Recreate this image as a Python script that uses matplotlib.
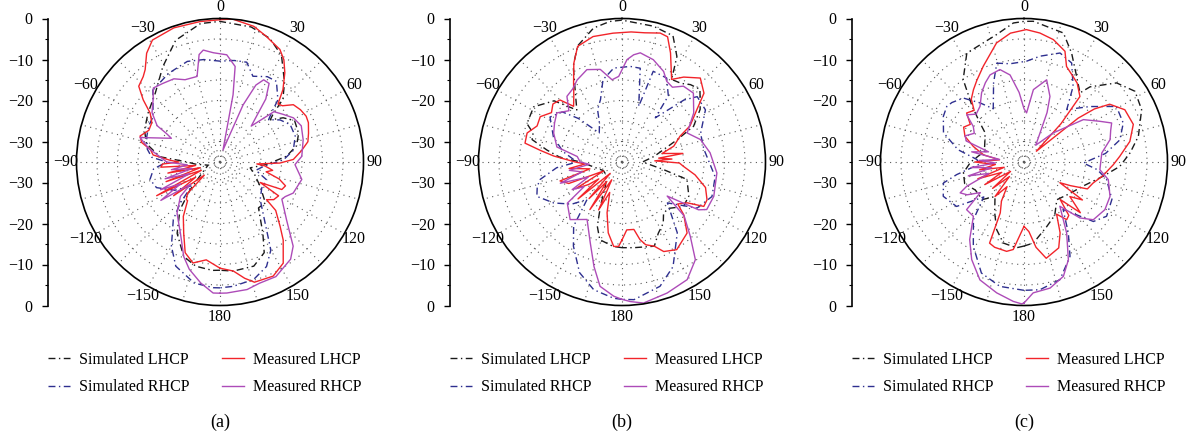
import numpy as np
import matplotlib
matplotlib.use("Agg")
import matplotlib.pyplot as plt

plt.rcParams["font.family"] = ["Liberation Serif", "DejaVu Serif"]

# (angle in degrees, level in dB)
A_SIM_LHCP = [(-180, -8.6), (-176, -8.5), (-167, -8.9), (-159, -10.3), (-149, -14.7), (-140, -19.8),
              (-133, -25), (-125, -29), (-115, -31), (-105, -32), (-95, -29), (-90, -27), (-85, -20.3),
              (-76, -16.5), (-67, -15), (-56, -13.8), (-43, -11.9), (-31, -7.9), (-20, -3.4), (-8, -0.9),
              (0, -0.7), (13, -1.2), (22, -2.5), (30, -5), (39, -10), (45, -13.3), (48, -17.6), (50, -19),
              (55, -16.2), (61, -14.2), (70, -14.6), (78, -15.9), (85, -18.7), (93, -23.6), (101, -27.5),
              (110, -26), (121, -23.6), (132, -20.1), (140, -20.4), (149, -14.7), (154, -10.4),
              (162, -8.3), (173, -8.2), (180, -8.6)]
A_SIM_RHCP = [(-180, -4.3), (-177, -4.3), (-168, -4.8), (-157, -7.4), (-150, -11.3), (-141, -16.9),
              (-136, -21), (-130, -26), (-122, -22), (-112, -18.3), (-104, -17.4), (-96, -18.7),
              (-90, -22), (-86, -18.3), (-80, -17), (-71, -16.1), (-63, -15.5), (-56, -15.3), (-43, -11),
              (-30, -10), (-18, -9.2), (-9, -9.7), (0, -10.4), (8, -10), (15, -9.8), (21, -12.6),
              (29, -11.2), (35, -11), (43, -14.3), (46, -17.4), (49, -19.3), (55, -17.1), (62, -15.6),
              (71, -15.6), (81, -16.9), (88, -19.5), (96, -24.4), (103, -26), (111, -22.8), (122, -23),
              (133, -21.6), (141, -18.1), (150, -10.2), (156, -7.1), (164, -5.2), (174, -4.5), (180, -4.3)]
A_MEAS_LHCP = [(-180, -9.1), (-172, -10.9), (-165, -9.5), (-159, -11.3), (-153, -15.5), (-146, -19),
               (-140, -22.7), (-138, -22.7), (-134, -24), (-130, -30), (-126, -21), (-122, -28),
               (-118, -17.5), (-114, -30), (-110, -21), (-106, -30), (-102, -22), (-98, -29),
               (-95, -20.5), (-92, -21), (-90, -25), (-88, -22.8), (-84, -18.6), (-80, -17.8),
               (-76, -15.3), (-72, -14.5), (-66, -16), (-60, -15.8), (-55, -14.2), (-51, -10.9),
               (-47, -7.9), (-42, -7), (-39, -6), (-34, -3), (-29, -1), (-19, -0.4), (-8, -0.4), (0, -0.3),
               (5, 0), (14, -0.9), (20, -2.3), (28, -3.9), (32, -5.6), (36, -8.1), (41, -11.6), (45, -15),
               (48, -14.5), (52, -12.3), (57, -11.6), (62, -11.2), (66, -11.4), (72, -12.3), (77, -13),
               (82, -14.9), (88, -17.1), (91, -20.4), (93, -26), (95, -24), (99, -22), (102, -23.5),
               (106, -20), (110, -18), (114, -18.5), (117, -24), (120, -18.5), (125, -19), (129, -20.4),
               (131, -17), (137, -13.5), (141, -10.5), (148, -5.9), (155, -4.3), (164, -4.5), (168, -6),
               (173, -8.2), (180, -9.1)]
A_MEAS_RHCP = [(-180, -3), (-177, -3), (-171, -5.1), (-164, -7.8), (-159, -10.3), (-151, -15.1),
               (-140, -18.7), (-131, -22.2), (-127, -26), (-123, -17.8), (-119, -24), (-115, -19),
               (-111, -27), (-107, -21), (-103, -28), (-99, -23), (-95, -27), (-90, -22), (-85, -20.3),
               (-79, -17.2), (-73, -14.6), (-64, -21.8), (-62, -20.2), (-60, -17.3), (-54, -14.5),
               (-47, -12.7), (-42, -10.7), (-36, -11.3), (-29, -11.8), (-23, -13.2), (-15, -13.4),
               (-11, -8.3), (-8.5, -7.4), (-3.5, -8.3), (3.6, -8.8), (9, -11.4), (11, -18.3), (14, -32),
               (22, -20), (25, -14.3), (28, -12.3), (32, -12.4), (36, -16), (41, -23.4), (47, -17),
               (53, -15.7), (59, -14.1), (66, -13.3), (75, -14), (86, -15), (92, -16.7), (102, -14.6),
               (113, -15.6), (118, -17), (121, -17.4), (131, -13.5), (139, -7.8), (144, -5.7), (154, -3.9),
               (162, -3.9), (168, -3.2), (177, -3), (180, -3)]

B_SIM_LHCP = [(-180, -14.1), (-174, -14.3), (-164, -15.3), (-159, -18.2), (-154, -23), (-145, -28),
              (-130, -30), (-115, -30), (-100, -28), (-90, -25), (-86, -20), (-81, -16.5), (-76, -12.4),
              (-72, -12.2), (-68, -10), (-58, -9.6), (-48, -12.7), (-41, -18.2), (-32, -13.3), (-27, -8.8),
              (-21, -4.7), (-12, -1.6), (-5, -0.6), (0, -0.4), (13, -1), (22, -1.8), (27.5, -6), (31, -11.5),
              (37, -11), (41.5, -9.8), (47, -9), (56, -12), (63.5, -15.5), (68, -20.5), (80, -27), (90, -30),
              (100, -25), (105, -18.6), (117, -16.7), (126, -16.5), (135, -19), (141, -18.9), (146, -17),
              (153, -15.5), (159, -13), (172, -13.9), (180, -14.1)]
B_SIM_RHCP = [(-180, -1.5), (-176.5, -1.7), (-167.5, -3.1), (-159, -6.1), (-150, -11.3), (-143, -15.4),
              (-137, -22.5), (-130, -19), (-121, -15.6), (-112, -12.6), (-106, -13.5), (-102, -14.6),
              (-95, -19), (-90, -24), (-80, -20.4), (-70, -17.2), (-58, -14.3), (-50, -16), (-45, -20),
              (-38, -26), (-30, -24), (-25, -20.9), (-19, -18.9), (-13, -14.4), (-5, -12), (5, -11.6),
              (11, -11.7), (16.7, -20.8), (19, -11.6), (28, -11.8), (35, -15.3), (37, -21.5), (45, -13.6),
              (49, -10.7), (58, -11), (70, -14.6), (81, -14.8), (99, -12), (111, -11.5), (121.5, -13.5),
              (132, -20.1), (142, -13.1), (154, -6.6), (163, -3.3), (175, -1.3), (180, -1.5)]
B_MEAS_LHCP = [(-180, -16), (-177.7, -14.4), (-174.4, -14.3), (-169, -17.4), (-163.6, -22.1), (-158, -27),
               (-154, -22), (-150, -30), (-146, -21), (-142, -29), (-138, -23), (-134, -31), (-130, -21),
               (-126, -28), (-124, -25.2), (-120, -22), (-116, -30), (-112, -21), (-107, -19.2),
               (-102, -27), (-97, -22), (-93, -26), (-90, -23.6), (-85, -18.3), (-82, -15), (-79, -10.9),
               (-73, -10.8), (-67, -12.5), (-61, -12.2), (-55, -14), (-50, -13), (-45, -13.6), (-41, -17),
               (-36, -15), (-31.5, -12.4), (-26, -8.2), (-21, -4.8), (-13, -3.6), (-4, -3.5), (4, -3.2),
               (10, -3), (16.5, -2.2), (20, -2.5), (24, -5.9), (31, -11.5), (36, -9.4), (43, -7), (50, -8.9),
               (55, -12.7), (62, -16.2), (66, -19.5), (73, -21.8), (78, -25), (82, -20), (84, -26),
               (86.6, -22.8), (88, -27), (91, -21), (94, -20), (100, -16.9), (107, -13.7), (114, -12.3),
               (118.5, -12.3), (122, -16.2), (127, -18), (130.5, -15.2), (137.5, -11.5), (148, -9.8),
               (155, -10.9), (159, -13), (164, -14), (167, -15.6), (170, -18.3), (176, -18.4), (180, -16)]
B_MEAS_RHCP = [(-180, -1.5), (-176.5, -2.2), (-170, -4.2), (-165, -8.6), (-158.6, -13.8), (-148.7, -18.6),
               (-138, -16.1), (-127, -18.3), (-123, -24), (-119, -21.1), (-114, -26), (-109, -19.1),
               (-104, -25), (-99, -22), (-94, -27), (-90, -24.8), (-83, -24), (-77, -18.7), (-67, -16.9),
               (-60, -16), (-53, -15.1), (-46, -17), (-40, -14.1), (-34, -13.5), (-28.7, -12.2),
               (-20.8, -10.9), (-13.2, -11.8), (-6.9, -14.8), (-2.2, -14.1), (2.8, -10), (6.2, -8.7),
               (9.5, -8), (17, -8.9), (24.7, -10.7), (29, -12.5), (34, -13), (39, -11.2), (46, -10.8),
               (55.6, -13.8), (66, -17.6), (74, -15.1), (84, -13.4), (96.6, -11.7), (110.5, -11.1),
               (119.3, -11.3), (122, -13), (127, -21.2), (131, -14.9), (137.4, -10.4), (143.1, -5.2),
               (151, -2.2), (161, -1.2), (171.3, -0.2), (176.6, -0.9), (180, -1.5)]

C_SIM_LHCP = [(-180, -14.5), (-175, -14), (-165.7, -14.6), (-158, -17.2), (-150, -20.7), (-140, -24),
              (-132, -21.3), (-120, -21.3), (-110, -19.6), (-100, -20), (-90, -22), (-75, -25), (-60, -24),
              (-53, -23.1), (-48.5, -20.7), (-43, -16.5), (-36.4, -10), (-27.7, -5), (-12.1, -3.2),
              (-4.4, -1), (0, -0.7), (3.8, -0.6), (17, -2.1), (23.6, -6), (31.6, -10.5), (39, -13.3),
              (41.3, -10.6), (49.5, -5.3), (57.5, -2.9), (66, -3.6), (77.3, -6.4), (85, -9), (92.6, -11.6),
              (100, -15.3), (112, -19.4), (125, -21.5), (139, -22.8), (150, -20), (160.6, -18.3),
              (173.4, -15.1), (180, -14.5)]
C_SIM_RHCP = [(-180, -3.7), (-169, -4.1), (-159, -6), (-149, -11), (-138.7, -16.3), (-131, -22),
              (-123.4, -15.3), (-113, -13.6), (-104.6, -14.7), (-100.6, -18.3), (-93, -24), (-87, -23.5),
              (-79.4, -18.6), (-70, -14.1), (-60.5, -12.4), (-54.3, -11.8), (-50.5, -12.2), (-43.5, -13.5),
              (-36.7, -17), (-30, -20), (-21, -14.3), (-15.4, -10), (-8, -10.8), (1.5, -10.4), (8.6, -8.9),
              (18.3, -7), (25.7, -8.2), (33, -13), (39.2, -18.5), (49.9, -14), (59, -8.7), (68.6, -9),
              (77, -11), (84, -15), (91, -20.5), (96, -17), (102, -14.4), (113, -11.7), (123.3, -10.9),
              (130.6, -12.7), (140.5, -20), (148, -14.6), (154, -9.4), (163, -5), (172.9, -3.6), (180, -3.7)]
C_MEAS_LHCP = [(-180, -19.3), (-173, -13.5), (-169, -12.8), (-161, -13), (-157, -13.5), (-155, -21.3),
               (-150, -24), (-145.5, -27.7), (-140, -24), (-135, -30), (-130, -25), (-125, -31), (-120, -24),
               (-115, -29), (-110, -23), (-105, -30), (-100, -24), (-95, -28), (-90, -23), (-85, -29),
               (-80, -25), (-73, -22.1), (-66.5, -19.3), (-60, -18), (-55, -19), (-49.5, -16.6), (-44, -17.5),
               (-40, -15), (-35, -13.5), (-30, -12), (-23, -9.6), (-13, -5.2), (-6, -3.4), (1, -2.7), (7, -3.3),
               (13.5, -4.3), (20.3, -6.2), (24, -9.5), (30, -11), (34, -11.8), (40.5, -14), (44, -22),
               (49, -31), (51, -18), (53, -13.5), (56, -9.8), (62.6, -7.3), (71, -6.8), (79, -8.7),
               (86.6, -11.6), (91.7, -13.2), (100, -15.5), (107, -17.4), (113, -18.2), (117, -22.3),
               (120, -24.9), (123, -18), (127, -21), (132, -16.5), (136, -22.3), (140, -18), (143.5, -17.5),
               (148, -20), (153, -15.6), (158, -12.4), (167, -10.9), (172, -14), (176, -18), (180, -19.3)]
C_MEAS_RHCP = [(-180, -0.6), (-179, -0.4), (-175.6, -0.9), (-168.2, -2.4), (-159.5, -4.3), (-151.8, -8),
               (-145, -11.9), (-137, -16.9), (-129.7, -16.8), (-125, -22), (-120, -19), (-115.8, -17.7),
               (-113, -19.8), (-108, -26), (-104, -21), (-100, -27), (-96, -22), (-92, -28), (-88, -24),
               (-84, -29), (-79, -22), (-74, -26), (-70, -20), (-66, -19.3), (-60, -21), (-55, -19.9),
               (-50.5, -16.9), (-45, -18.5), (-38.3, -17.7), (-31.5, -15.2), (-26, -13.5), (-21.3, -12.2),
               (-14.6, -11.7), (-9.1, -13.5), (-4, -18), (0, -22), (3, -23), (7.4, -17.2), (15.4, -14.2),
               (21.6, -17.8), (25, -21.7), (29, -27), (35, -30), (45, -25), (54.5, -17.2), (61.8, -14),
               (66, -11.6), (70, -12.5), (75.4, -13.3), (83.4, -15.9), (95.8, -16.4), (101.8, -14),
               (111.8, -12.4), (120.5, -12.1), (129.8, -13), (135, -15.7), (141, -21.1), (149, -14.8),
               (155.6, -8.8), (161, -5.5), (168.3, -3.6), (176, -3), (180, -0.6)]

PANELS = ["(a)", "(b)", "(c)"]
LABELS = ["Simulated LHCP", "Simulated RHCP", "Measured LHCP", "Measured RHCP"]
ANGLE_TICKS = list(range(0, 360, 15))
SCALE_LABELS = ["0", "\u221210", "\u221220", "\u221230", "\u221230", "\u221220", "\u221210", "0"]

data = [
    [A_SIM_LHCP, A_SIM_RHCP, A_MEAS_LHCP, A_MEAS_RHCP],
    [B_SIM_LHCP, B_SIM_RHCP, B_MEAS_LHCP, B_MEAS_RHCP],
    [C_SIM_LHCP, C_SIM_RHCP, C_MEAS_LHCP, C_MEAS_RHCP],
]
styles = [
    dict(color="#1a1a1a", lw=1.0, ls=(0, (5, 2.5, 1, 2.5))),
    dict(color="#2e2f8f", lw=1.0, ls=(0, (5, 2.5, 1, 2.5))),
    dict(color="#f2242a", lw=1.0, ls="-"),
    dict(color="#ad4bb8", lw=1.0, ls="-"),
]

W, H = 1192, 437
fig = plt.figure(figsize=(W / 100, H / 100), dpi=100)

R = 143.5
centers = [220, 622, 1024]
scale_x = [48, 450, 852]
cy = 162


def angle_label(a):
    if a % 30:
        return ""
    if a > 180:
        a -= 360
    return str(a).replace("-", "\u2212")


for k, cx in enumerate(centers):
    ax = fig.add_axes([(cx - R) / W, (H - cy - R) / H, 2 * R / W, 2 * R / H], projection="polar")
    ax.set_theta_zero_location("N")
    ax.set_theta_direction(-1)

    for series, st in zip(data[k], styles):
        arr = np.array(series, dtype=float)
        ax.plot(np.deg2rad(arr[:, 0]), arr[:, 1], color=st["color"], lw=st["lw"],
                linestyle=st["ls"])

    ax.set_thetagrids(ANGLE_TICKS, [angle_label(a) for a in ANGLE_TICKS], fontsize=11.5)
    ax.set_thetalim(0, 2 * np.pi)
    ax.set_ylim(-35, 0)
    ax.set_yticks([-30, -25, -20, -15, -10, -5])
    ax.set_yticklabels([])
    ax.grid(True, linestyle=(0, (1, 4)), color="0.35", linewidth=0.8)
    ax.tick_params(axis="x", direction="in", length=4, width=1, colors="k", pad=1)
    ax.spines["polar"].set_linewidth(1.2)

    # radial dB scale drawn beside each pattern
    sax = fig.add_axes([scale_x[k] / W, (H - cy - R) / H, 0.0005, 2 * R / H])
    sax.set_ylim(-35, 35)
    sax.set_xticks([])
    for side in ["right", "top", "bottom"]:
        sax.spines[side].set_visible(False)
    sax.spines["left"].set_linewidth(1.2)
    sax.set_yticks([35, 25, 15, 5, -5, -15, -25, -35])
    sax.set_yticklabels(SCALE_LABELS, fontsize=11.5)
    sax.set_yticks([30, 20, 10, 0, -10, -20, -30], minor=True)
    sax.tick_params(axis="y", which="major", length=4, width=1, pad=7)
    sax.tick_params(axis="y", which="minor", length=2, width=0.8)
    sax.patch.set_visible(False)

    handles = [ax.lines[i] for i in range(4)]
    fig.legend(handles, LABELS, loc="upper left",
               bbox_to_anchor=(scale_x[k] / W, 1 - 352 / H), ncol=2, frameon=False,
               fontsize=11.5, handlelength=1.4, handletextpad=0.55, columnspacing=2.0,
               labelspacing=0.7, borderpad=0, borderaxespad=0)
    fig.text(cx / W, 1 - 422 / H, PANELS[k], ha="center", va="center", fontsize=13)

fig.savefig("out.png", dpi=100)
